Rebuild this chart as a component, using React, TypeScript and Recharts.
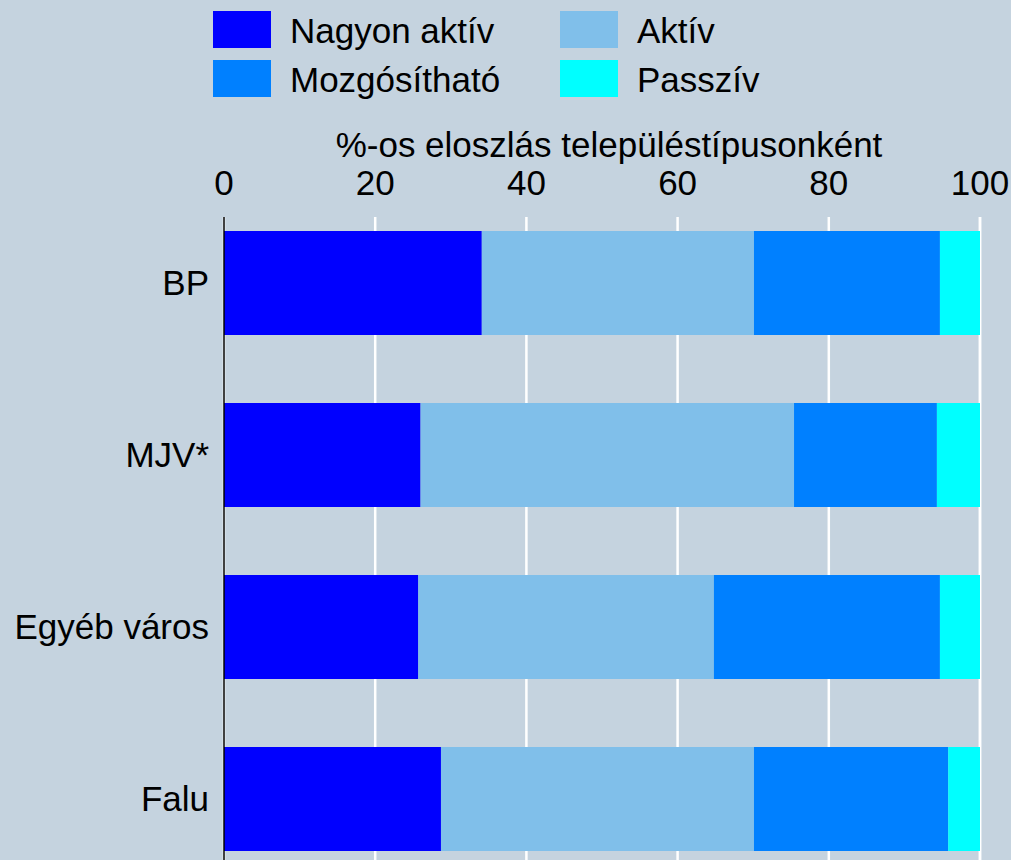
import React from "react";
import { BarChart, Bar, XAxis, YAxis, CartesianGrid } from "recharts";

// settlement types (rows) and the four activity groups, % share
const categories = ["BP", "MJV*", "Egyéb város", "Falu"];
const nagyonAktiv = [34.1, 26.0, 25.7, 28.7];
const aktiv = [36.0, 49.4, 39.1, 41.4];
const mozgosithato = [24.6, 18.9, 29.9, 25.7];
const passziv = [5.3, 5.7, 5.3, 4.2];
const xTicks = [0, 20, 40, 60, 80, 100];
const axisTitle = "%-os eloszlás településtípusonként";

const series = [
  { key: "nagyonAktiv", name: "Nagyon aktív", color: "#0000ff" },
  { key: "aktiv", name: "Aktív", color: "#80bfea" },
  { key: "mozgosithato", name: "Mozgósítható", color: "#0080ff" },
  { key: "passziv", name: "Passzív", color: "#00ffff" },
];

const data = categories.map((name, i) => ({
  name,
  nagyonAktiv: nagyonAktiv[i],
  aktiv: aktiv[i],
  mozgosithato: mozgosithato[i],
  passziv: passziv[i],
}));

const BG = "#c5d3df";
const FONT = "'Liberation Sans', Arial, sans-serif";

// legend is 2x2: row 1 Nagyon aktív / Aktív, row 2 Mozgósítható / Passzív
const legendOrder = [0, 1, 2, 3];

function TopLegend() {
  return (
    <svg width={1011} height={110} style={{ position: "absolute", top: 0, left: 0 }}>
      {legendOrder.map((idx, i) => {
        const s = series[idx];
        const col = i % 2;
        const row = Math.floor(i / 2);
        const x = col === 0 ? 213 : 560;
        const y = row === 0 ? 11 : 60;
        return (
          <g key={s.key}>
            <rect x={x} y={y} width={58} height={37} fill={s.color} />
            <text x={x + 77} y={y + 32} fontSize={35} fill="#000" fontFamily={FONT}>
              {s.name}
            </text>
          </g>
        );
      })}
    </svg>
  );
}

export default function App() {
  return (
    <div
      style={{
        position: "absolute",
        top: 0,
        left: 0,
        width: 1011,
        height: 860,
        overflow: "hidden",
        background: BG,
        fontFamily: FONT,
      }}
    >
      <BarChart
        width={1011}
        height={900}
        data={data}
        layout="vertical"
        margin={{ top: 100, right: 31, bottom: 0, left: 0 }}
      >
        <CartesianGrid horizontal={false} stroke="#ffffff" strokeWidth={2.5} />
        <XAxis
          type="number"
          orientation="top"
          domain={[0, 100]}
          ticks={xTicks}
          height={117}
          axisLine={false}
          tickLine={false}
          tickSize={0}
          tickMargin={22}
          tick={{ fontSize: 35, fill: "#000" }}
          label={{ value: axisTitle, position: "insideTop", offset: 32, dx: 7, fontSize: 35, fill: "#000" }}
        />
        <YAxis
          type="category"
          dataKey="name"
          width={224}
          tickLine={false}
          tickSize={0}
          tickMargin={15}
          axisLine={{ stroke: "#000", strokeWidth: 1.5 }}
          tick={{ fontSize: 35, fill: "#000" }}
          padding={{ top: -20, bottom: 15 }}
        />
        {series.map((s) => (
          <Bar
            key={s.key}
            dataKey={s.key}
            name={s.name}
            stackId="a"
            fill={s.color}
            barSize={104}
            isAnimationActive={false}
          />
        ))}
      </BarChart>
      <TopLegend />
    </div>
  );
}
